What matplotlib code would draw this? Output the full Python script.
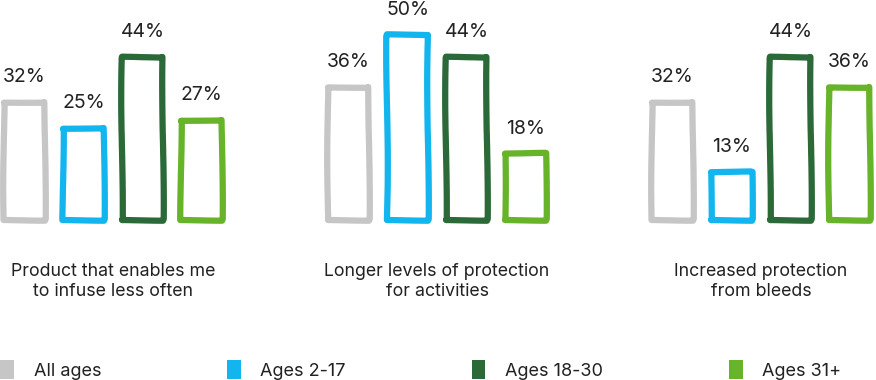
import matplotlib.pyplot as plt
import numpy as np
from matplotlib.patches import Patch

plt.rcParams['font.family'] = ['Inter', 'DejaVu Sans']

categories = ['Product that enables me\nto infuse less often',
              'Longer levels of protection\nfor activities',
              'Increased protection\nfrom bleeds']
series = ['All ages', 'Ages 2-17', 'Ages 18-30', 'Ages 31+']
values = [
    [32, 36, 32],   # All ages
    [25, 50, 13],   # Ages 2-17
    [44, 44, 44],   # Ages 18-30
    [27, 18, 36],   # Ages 31+
]
colors = ['#c6c6c6', '#13b5ee', '#2b6a38', '#67b32a']

fig = plt.figure(figsize=(8.76, 3.8), dpi=100)
# axes spans from bar baseline (y=220px) to top of figure
ax = fig.add_axes([0, (380 - 220) / 380, 1, 220 / 380])
ax.set_xlim(-113 / 324, (876 - 113) / 324)
ax.set_ylim(0, 59.5)
ax.axis('off')

x = np.arange(len(categories))
step = 0.182
width = 0.126
for i, (name, vals, c) in enumerate(zip(series, values, colors)):
    pos = x + (i - 1.5) * step
    bars = ax.bar(pos, vals, width=width, facecolor='white', edgecolor=c,
                  linewidth=4.5, joinstyle='round', capstyle='round',
                  clip_on=False)
    for b, v in zip(bars, vals):
        b.set_sketch_params(scale=0.8, length=250, randomness=2)
        ax.text(b.get_x() + b.get_width() / 2, v + 4.3, f'{v}%',
                ha='center', va='bottom', fontsize=14, color='#222222')

for xi, label in zip(x, categories):
    ax.text(xi, -11.5, label, ha='center', va='top', fontsize=12.8,
            color='#222222', linespacing=1.25)

handles = [Patch(facecolor=c, edgecolor='none') for c in colors]
fig.legend(handles, series, loc='lower left', ncol=4, mode='expand',
           bbox_to_anchor=(-0.012, -0.028, 0.985, 0.09), frameon=False,
           fontsize=13, handlelength=0.75, handleheight=1.25,
           handletextpad=1.1, labelcolor='#222222', borderaxespad=0.2)

fig.savefig('out.png', dpi=100)
